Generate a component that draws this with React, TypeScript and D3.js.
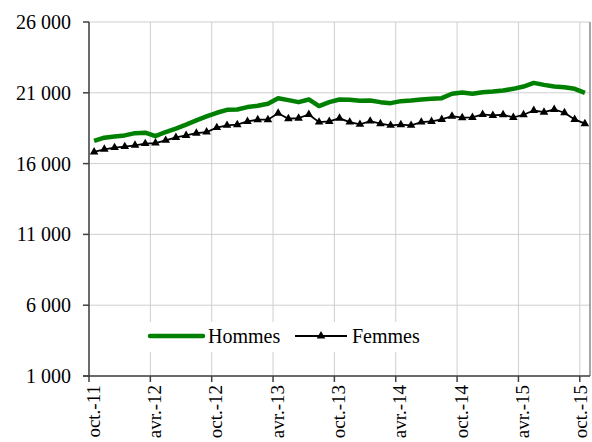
import * as d3 from "d3";

const months = [
  "oct.-11", "nov.-11", "déc.-11",
  "janv.-12", "févr.-12", "mars-12", "avr.-12", "mai-12", "juin-12", "juil.-12", "août-12", "sept.-12", "oct.-12", "nov.-12", "déc.-12",
  "janv.-13", "févr.-13", "mars-13", "avr.-13", "mai-13", "juin-13", "juil.-13", "août-13", "sept.-13", "oct.-13", "nov.-13", "déc.-13",
  "janv.-14", "févr.-14", "mars-14", "avr.-14", "mai-14", "juin-14", "juil.-14", "août-14", "sept.-14", "oct.-14", "nov.-14", "déc.-14",
  "janv.-15", "févr.-15", "mars-15", "avr.-15", "mai-15", "juin-15", "juil.-15", "août-15", "sept.-15", "oct.-15",
];

const shownLabels = ["oct.-11", "avr.-12", "oct.-12", "avr.-13", "oct.-13", "avr.-14", "oct.-14", "avr.-15", "oct.-15"];

const hommes = [
  17600, 17830, 17920, 17990, 18150, 18180, 17940, 18230, 18470, 18750, 19050, 19330,
  19590, 19800, 19820, 19990, 20080, 20230, 20620, 20480, 20340, 20530, 20060, 20340,
  20530, 20510, 20440, 20460, 20340, 20270, 20410, 20460, 20530, 20580, 20620, 20930,
  21020, 20930, 21040, 21090, 21160, 21280, 21440, 21700, 21560, 21440, 21390, 21280, 21000,
];

const femmes = [
  16820, 17010, 17130, 17200, 17290, 17410, 17450, 17640, 17850, 17990, 18150, 18230,
  18540, 18700, 18750, 18980, 19100, 19100, 19560, 19170, 19210, 19470, 18930, 18980,
  19200, 18930, 18770, 19000, 18820, 18700, 18750, 18700, 18930, 18980, 19120, 19350,
  19240, 19260, 19470, 19400, 19450, 19260, 19450, 19750, 19630, 19820, 19590, 19120, 18820,
];

const yTicks = [1000, 6000, 11000, 16000, 21000, 26000];

const W = 592;
const H = 442;
const left = 89;
const right = 590;
const top = 22;
const bottom = 376;
const font = "'Liberation Serif', 'Times New Roman', serif";

export default function App() {
  const x = d3.scaleBand().domain(months).range([left, right]).paddingInner(0).paddingOuter(0);
  const y = d3.scaleLinear().domain([1000, 26000]).range([bottom, top]);
  const cx = (m: string) => (x(m) as number) + x.bandwidth() / 2;

  const line = d3
    .line<number>()
    .x((_, i) => cx(months[i]))
    .y((d) => y(d));

  const fmt = (v: number) => d3.format(",")(v).replace(",", "\u00a0");
  const tri = d3.symbol(d3.symbolTriangle, 32)();

  return (
    <svg width={W} height={H} style={{ position: "absolute", left: 0, top: 0, background: "#fff" }}>
      {/* gridlines */}
      {yTicks.map((t) => (
        <line key={"gy" + t} x1={left} x2={right} y1={y(t)} y2={y(t)} stroke="#cfcfcf" strokeWidth={1} />
      ))}
      {shownLabels.map((m) => (
        <line key={"gx" + m} x1={x(m)} x2={x(m)} y1={top} y2={bottom} stroke="#cfcfcf" strokeWidth={1} />
      ))}
      <line x1={right} x2={right} y1={top} y2={bottom} stroke="#8a8a8a" strokeWidth={1.5} />

      {/* axes */}
      <line x1={left} x2={left} y1={top} y2={bottom + 1} stroke="#404040" strokeWidth={1.5} />
      <line x1={left - 6} x2={right} y1={bottom} y2={bottom} stroke="#404040" strokeWidth={1.5} />
      {yTicks.map((t) => (
        <g key={"ty" + t}>
          <line x1={left - 6} x2={left} y1={y(t)} y2={y(t)} stroke="#404040" strokeWidth={1.5} />
          <text x={left - 18} y={y(t)} dy="0.35em" textAnchor="end" fontFamily={font} fontSize={20} fill="#000">
            {fmt(t)}
          </text>
        </g>
      ))}
      {shownLabels.map((m) => (
        <g key={"tx" + m}>
          <line x1={x(m)} x2={x(m)} y1={bottom} y2={bottom + 6} stroke="#404040" strokeWidth={1.5} />
          <text
            transform={`translate(${Math.min((x(m) as number) + 4, W - 12)},${bottom + 9}) rotate(-90)`}
            textAnchor="end"
            dy="0.35em"
            fontFamily={font}
            fontSize={19}
            fill="#000"
          >
            {m}
          </text>
        </g>
      ))}

      {/* series */}
      <path d={line(hommes) ?? ""} fill="none" stroke="#008000" strokeWidth={4.5} strokeLinejoin="round" />
      <path d={line(femmes) ?? ""} fill="none" stroke="#000" strokeWidth={1.8} />
      {femmes.map((v, i) => (
        <path key={"m" + i} d={tri ?? ""} transform={`translate(${cx(months[i])},${y(v)})`} fill="#000" />
      ))}

      {/* legend */}
      <rect x={146} y={322} width={290} height={30} fill="#fff" />
      <line x1={150} x2={203} y1={336} y2={336} stroke="#008000" strokeWidth={4.5} strokeLinecap="round" />
      <text x={208} y={343} fontFamily={font} fontSize={20} fill="#000">Hommes</text>
      <line x1={295} x2={347} y1={336} y2={336} stroke="#000" strokeWidth={1.8} />
      <path d={tri ?? ""} transform="translate(321,336)" fill="#000" />
      <text x={352} y={343} fontFamily={font} fontSize={20} fill="#000">Femmes</text>
    </svg>
  );
}
